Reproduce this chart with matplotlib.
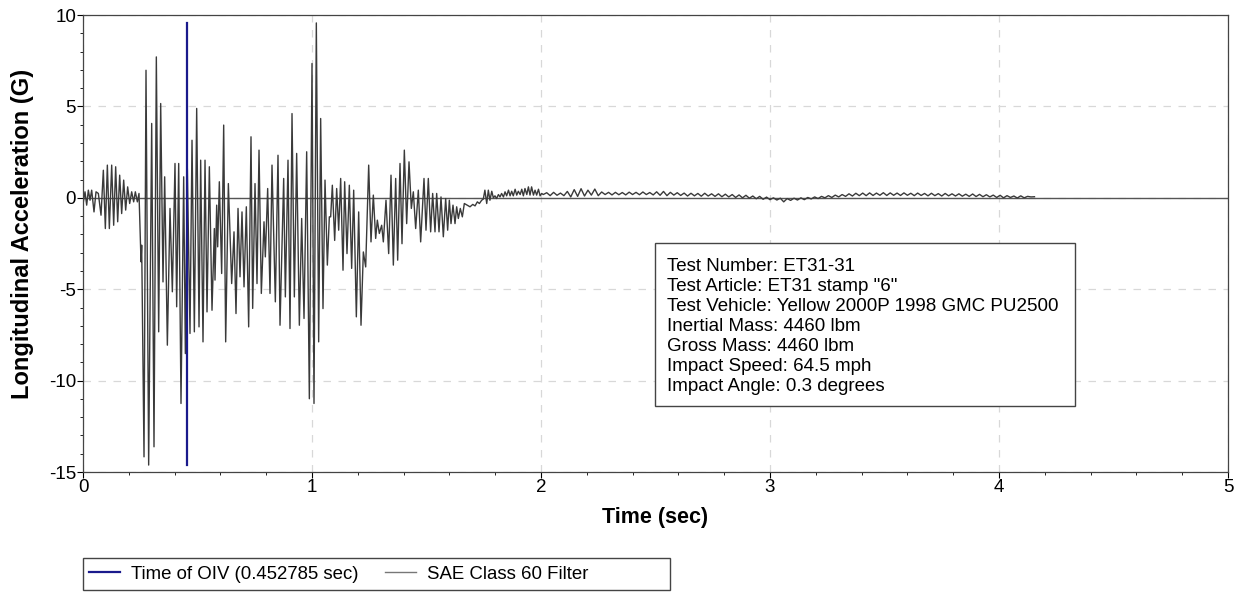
import numpy as np
import matplotlib
matplotlib.use("Agg")
import matplotlib.pyplot as plt
from matplotlib.ticker import MultipleLocator
from matplotlib.patches import Rectangle

plt.rcParams["font.family"] = ["Liberation Sans", "DejaVu Sans"]
plt.rcParams["axes.unicode_minus"] = False

# SAE Class 60 filtered longitudinal acceleration, main event (t in sec, G)
t_main = [
    0.0015, 0.0087, 0.0160, 0.0233, 0.0306, 0.0378, 0.0480, 0.0568, 0.0670, 0.0786,
    0.0888, 0.0975, 0.1063, 0.1150, 0.1252, 0.1339, 0.1426, 0.1514, 0.1601, 0.1688,
    0.1776, 0.1863, 0.1950, 0.2038, 0.2125, 0.2212, 0.2285, 0.2373, 0.2445, 0.2533,
    0.2562, 0.2664, 0.2751, 0.2867, 0.2999, 0.3100, 0.3202, 0.3304, 0.3392, 0.3493,
    0.3566, 0.3683, 0.3799, 0.3901, 0.4017, 0.4090, 0.4178, 0.4279, 0.4396, 0.4469,
    0.4556, 0.4672, 0.4760, 0.4862, 0.4964, 0.5066, 0.5138, 0.5240, 0.5328, 0.5415,
    0.5517, 0.5633, 0.5735, 0.5764, 0.5837, 0.5881, 0.5953, 0.6055, 0.6143, 0.6230,
    0.6347, 0.6492, 0.6594, 0.6681, 0.6769, 0.6856, 0.6943, 0.7031, 0.7132, 0.7234,
    0.7336, 0.7409, 0.7511, 0.7598, 0.7686, 0.7787, 0.7904, 0.7962, 0.8064, 0.8166,
    0.8253, 0.8399, 0.8515, 0.8603, 0.8763, 0.8836, 0.8952, 0.9039, 0.9127, 0.9229,
    0.9330, 0.9447, 0.9549, 0.9651, 0.9767, 0.9884, 1.0000, 1.0087, 1.0189, 1.0291,
    1.0378, 1.0480, 1.0568, 1.0670, 1.0757, 1.0815, 1.0888, 1.0990, 1.1077, 1.1165,
    1.1252, 1.1354, 1.1426, 1.1528, 1.1630, 1.1732, 1.1820, 1.1936, 1.2038, 1.2140,
    1.2242, 1.2344, 1.2475, 1.2576, 1.2678, 1.2780, 1.2853, 1.2940, 1.3042, 1.3115,
    1.3231, 1.3348, 1.3450, 1.3552, 1.3654, 1.3741, 1.3843, 1.3930, 1.4032, 1.4134,
    1.4236, 1.4338, 1.4425, 1.4527, 1.4643, 1.4745, 1.4891, 1.4978, 1.5079, 1.5181,
    1.5269, 1.5371, 1.5444, 1.5546, 1.5633, 1.5735, 1.5837, 1.5924, 1.5997, 1.6070,
    1.6157, 1.6245, 1.6317, 1.6390, 1.6477, 1.6565, 1.6652, 1.6900, 1.7020, 1.7120,
    1.7220, 1.7310, 1.7410, 1.7480, 1.7550, 1.7630, 1.7700, 1.7770, 1.7850, 1.7920,
    1.7990, 1.8060, 1.8140, 1.8210, 1.8280, 1.8360, 1.8430, 1.8500, 1.8580, 1.8650,
    1.8720, 1.8790, 1.8870, 1.8940, 1.9010, 1.9090, 1.9160, 1.9230, 1.9300, 1.9380,
    1.9450, 1.9520, 1.9590, 1.9670, 1.9740, 1.9810, 1.9890, 1.9960, 2.0030, 2.0100,
]
g_main = [
    -0.22, 0.33, -0.40, 0.42, -0.13, 0.42, -0.77, 0.33, 0.24, -0.95,
    1.51, -1.68, 1.79, -1.68, 1.79, -1.50, 1.70, -1.31, 1.24, -0.86,
    0.97, -0.67, 0.60, -0.31, 0.33, -0.22, 0.33, -0.22, 0.24, -3.50,
    -2.59, -14.17, 6.98, -14.62, 4.07, -13.62, 7.71, -7.33, 5.16, -4.60,
    1.15, -8.06, -0.58, -5.14, 1.88, -5.96, 1.88, -11.25, 1.15, -8.52,
    1.60, -7.42, 3.15, -7.33, 4.89, -7.06, 2.06, -7.88, 2.06, -6.24,
    1.70, -6.15, -1.68, -4.50, -0.40, -2.68, 0.88, -4.14, 3.98, -7.88,
    0.78, -4.69, -1.86, -6.33, -0.58, -4.32, -0.77, -4.87, -0.49, -7.06,
    3.34, -6.05, 0.78, -4.69, 2.61, -5.23, -1.31, -3.23, 0.51, -5.23,
    1.79, -5.69, 2.33, -6.97, 1.06, -5.42, 2.06, -7.15, 4.61, -5.42,
    2.43, -6.97, -1.13, -6.60, 2.52, -10.99, 7.35, -11.25, 9.57, -7.88,
    4.34, -6.06, 0.97, -3.68, -1.04, -1.04, 0.69, -2.33, 0.51, -1.77,
    1.06, -3.96, 0.88, -3.05, 0.69, -3.86, 0.42, -6.51, -0.77, -6.97,
    -2.96, -3.78, 1.79, -2.41, 0.15, -2.22, -1.22, -1.95, -1.50, -2.41,
    -0.13, -3.05, 1.24, -3.68, 1.06, -3.41, 1.88, -2.51, 2.61, -1.41,
    1.97, -0.58, 0.33, -1.68, 0.42, -2.41, 1.06, -1.77, 1.06, -1.86,
    0.24, -1.86, 0.24, -1.86, 0.05, -2.13, -0.04, -1.77, -0.13, -1.41,
    -0.40, -1.41, -0.49, -1.13, -0.58, -1.04, -0.31, -0.49, -0.36, -0.44,
    -0.22, -0.31, -0.13, -0.07, 0.42, -0.31, 0.42, -0.13, 0.36, 0.00,
    0.11, -0.04, 0.18, 0.05, 0.24, 0.05, 0.33, 0.11, 0.42, 0.11,
    0.36, 0.11, 0.47, 0.15, 0.36, 0.18, 0.47, 0.11, 0.51, 0.18,
    0.60, 0.15, 0.60, 0.15, 0.42, 0.15, 0.47, 0.11, 0.24, 0.18,
]

# ride-down ripple after the event, sampled every 0.015 s from 2.025 s
tail_start = 2.025
tail_step = 0.015
g_tail = [
    0.28, 0.12, 0.30, 0.14, 0.26, 0.12, 0.35, 0.05, 0.45, 0.08,
    0.50, 0.10, 0.42, 0.15, 0.48, 0.12, 0.32, 0.18, 0.30, 0.16,
    0.30, 0.17, 0.29, 0.16, 0.31, 0.18, 0.30, 0.17, 0.32, 0.18,
    0.29, 0.16, 0.33, 0.14, 0.35, 0.12, 0.30, 0.15, 0.28, 0.13,
    0.26, 0.10, 0.25, 0.11, 0.24, 0.09, 0.25, 0.10, 0.22, 0.08,
    0.22, 0.06, 0.20, 0.05, 0.18, 0.02, 0.16, 0.00, 0.14, -0.02,
    0.10, -0.05, 0.08, -0.08, 0.04, -0.10, 0.00, -0.12, -0.02, -0.22,
    -0.04, -0.14, -0.02, -0.12, 0.00, -0.10, 0.02, -0.06, 0.05, -0.04,
    0.08, 0.00, 0.12, 0.02, 0.15, 0.05, 0.18, 0.08, 0.22, 0.10,
    0.25, 0.12, 0.26, 0.12, 0.27, 0.13, 0.26, 0.14, 0.28, 0.13,
    0.27, 0.14, 0.26, 0.13, 0.27, 0.14, 0.25, 0.12, 0.26, 0.13,
    0.24, 0.11, 0.25, 0.12, 0.23, 0.10, 0.24, 0.11, 0.22, 0.10,
    0.22, 0.09, 0.20, 0.08, 0.21, 0.07, 0.19, 0.06, 0.17, 0.05,
    0.15, 0.02, 0.14, 0.00, 0.12, 0.02, 0.10, -0.01, 0.11, 0.00,
    0.08, 0.05, 0.06,
]

t_oiv = 0.452785

info_lines = [
    "Test Number: ET31-31",
    'Test Article: ET31 stamp "6"',
    "Test Vehicle: Yellow 2000P 1998 GMC PU2500",
    "Inertial Mass: 4460 lbm",
    "Gross Mass: 4460 lbm",
    "Impact Speed: 64.5 mph",
    "Impact Angle: 0.3 degrees",
]

t_tail = tail_start + tail_step * np.arange(len(g_tail))
t_all = np.concatenate([t_main, t_tail])
g_all = np.concatenate([g_main, g_tail])

fig = plt.figure(figsize=(12.39, 5.95), dpi=100)
ax = fig.add_axes([0.067, 0.2067, 0.9241, 0.768])
ax.set_axisbelow(True)

ax.axhline(0, color="#555555", lw=1.0, zorder=1)
oiv, = ax.plot([t_oiv, t_oiv], [g_all.min(), g_all.max()], color="#1a1a8c",
               lw=1.6, zorder=3, label="Time of OIV (0.452785 sec)")
sae, = ax.plot(t_all, g_all, color="#3a3a3a", lw=1.0, zorder=2,
               label="SAE Class 60 Filter")

ax.set_xlim(0, 5)
ax.set_ylim(-15, 10)
ax.xaxis.set_major_locator(MultipleLocator(1))
ax.xaxis.set_minor_locator(MultipleLocator(0.2))
ax.yaxis.set_major_locator(MultipleLocator(5))
ax.yaxis.set_minor_locator(MultipleLocator(1))
ax.tick_params(which="major", direction="out", length=4, labelsize=13.5, pad=1)
ax.tick_params(which="minor", direction="out", length=2.5)
ax.grid(True, which="major", ls=(0, (6, 6)), color="#d8d8d8", lw=0.9)
for s in ax.spines.values():
    s.set_color("#444444")
    s.set_linewidth(0.9)

ax.set_xlabel("Time (sec)", fontsize=15.5, fontweight="bold", labelpad=8)
ax.set_ylabel("Longitudinal Acceleration (G)", fontsize=17, fontweight="bold",
              va="center")
ax.yaxis.set_label_coords(-0.053, 0.52)

# info box
ax.add_patch(Rectangle((0.4996, 0.1444), 0.3668, 0.3567, transform=ax.transAxes,
                       fc="white", ec="#444444", lw=1.0, zorder=5))
ax.text(0.510, 0.469, "\n".join(info_lines), transform=ax.transAxes,
        fontsize=13.5, va="top", ha="left", linespacing=1.23, zorder=6)

# legend below the plot, with its own frame
fig.patches.append(Rectangle((83 / 1239, 5 / 595), 587 / 1239, 32 / 595,
                             transform=fig.transFigure, fc="white",
                             ec="#444444", lw=1.0))
leg = fig.legend(handles=[oiv, sae], loc="center left",
                 bbox_to_anchor=(83 / 1239, 21 / 595), ncol=2, fontsize=13.4,
                 frameon=False, handlelength=1.67, handletextpad=0.6,
                 columnspacing=1.4, borderaxespad=0, borderpad=0.32)
leg.legend_handles[1].set_color("#777777")

fig.savefig("out.png", dpi=100)
